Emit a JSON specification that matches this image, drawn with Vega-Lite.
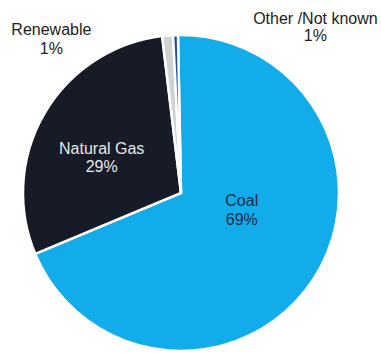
{
  "$schema": "https://vega.github.io/schema/vega-lite/v6.json",
  "width": 362,
  "height": 320,
  "autosize": {"type": "none"},
  "padding": {"left": 0, "top": 33, "right": 19, "bottom": 0},
  "background": "white",
  "config": {"view": {"stroke": null}, "font": "Liberation Sans"},
  "data": {
    "values": [
      {"source": "Coal", "value": 69.0, "label": "Coal\n69%", "order": 1},
      {"source": "Natural Gas", "value": 29.4, "label": "Natural Gas\n29%", "order": 2},
      {"source": "Renewable", "value": 1.1, "label": "Renewable\n1%", "order": 3},
      {"source": "Other /Not known", "value": 0.5, "label": "Other /Not known\n1%", "order": 4}
    ]
  },
  "transform": [
    {"stack": "value", "groupby": [], "sort": [{"field": "order", "order": "ascending"}], "as": ["v0", "v1"]},
    {"calculate": "(datum.v0 + datum.v1) / 2", "as": "mid"}
  ],
  "layer": [
    {
      "mark": {"type": "arc", "radius": 158, "stroke": "white", "strokeWidth": 2.5},
      "encoding": {
        "theta": {"field": "v0", "type": "quantitative", "scale": {"domain": [0, 100], "range": [-0.019, 6.264]}},
        "theta2": {"field": "v1"},
        "color": {
          "field": "source", "type": "nominal", "legend": null,
          "scale": {"domain": ["Coal", "Natural Gas", "Renewable", "Other /Not known"], "range": ["#12acea", "#171b28", "#d0d3d6", "#1d4fb0"]}
        }
      }
    },
    {
      "transform": [{"filter": "datum.source === 'Coal'"}],
      "mark": {"type": "text", "radius": 63, "dx": 8, "dy": -26, "fontSize": 16, "lineBreak": "\n", "lineHeight": 19, "align": "center", "baseline": "middle", "color": "#1e2b4a"},
      "encoding": {"theta": {"field": "mid", "type": "quantitative"}, "text": {"field": "label"}}
    },
    {
      "transform": [{"filter": "datum.source === 'Natural Gas'"}],
      "mark": {"type": "text", "radius": 86, "dx": -5, "dy": -1, "fontSize": 16, "lineBreak": "\n", "lineHeight": 18.5, "align": "center", "baseline": "middle", "color": "#e8e8e8"},
      "encoding": {"theta": {"field": "mid", "type": "quantitative"}, "text": {"field": "label"}}
    },
    {
      "transform": [{"filter": "datum.source === 'Renewable'"}],
      "mark": {"type": "text", "radius": 160, "dx": -116, "dy": -4, "fontSize": 16, "lineBreak": "\n", "lineHeight": 19, "align": "center", "baseline": "middle", "color": "#222222"},
      "encoding": {"theta": {"field": "mid", "type": "quantitative"}, "text": {"field": "label"}}
    },
    {
      "transform": [{"filter": "datum.source === 'Other /Not known'"}],
      "mark": {"type": "text", "radius": 160, "dx": 140, "dy": -14, "fontSize": 16, "lineBreak": "\n", "lineHeight": 17, "align": "center", "baseline": "middle", "color": "#222222"},
      "encoding": {"theta": {"field": "mid", "type": "quantitative"}, "text": {"field": "label"}}
    }
  ]
}
